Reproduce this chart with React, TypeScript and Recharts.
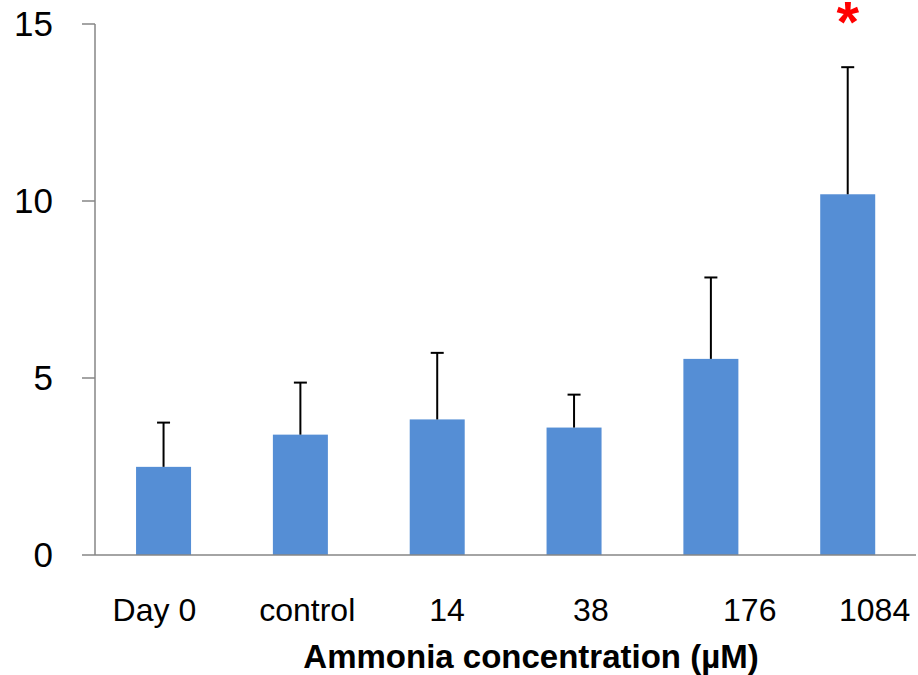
import { Bar, BarChart, XAxis, YAxis } from "recharts";

// 암모니아 농도별 평균값 + 표준편차(위쪽만). 1084 µM 에만 유의성 별표.
const CATEGORIES = ["Day 0", "control", "14", "38", "176", "1084"];
const MEANS = [2.49, 3.4, 3.83, 3.6, 5.54, 10.19];
const SD = [1.25, 1.47, 1.88, 0.93, 2.3, 3.59];
const SIGNIFICANT = [false, false, false, false, false, true];
const Y_TICKS = [0, 5, 10, 15];

// 원본(엑셀) 라벨이 막대 중심에서 조금씩 밀려 있어서 그대로 흉내낸다.
const TICK_NUDGE = [-9, 7, 10, 17, 39, 27];

const BAR_COLOR = "#558ed5";
const AXIS_COLOR = "#868686";
const FONT = "'Liberation Sans', Arial, sans-serif";

const data = CATEGORIES.map((name, i) => ({
  name,
  value: MEANS[i],
  sd: SD[i],
  sig: SIGNIFICANT[i],
}));

function BarWithError(props: any) {
  const { x, y, width, height, payload } = props;
  // 막대 높이/값 = 축 스케일(px per unit)
  const k = height / payload.value;
  const top = y - payload.sd * k;
  const cx = x + width / 2;
  return (
    <g>
      <rect x={x} y={y} width={width} height={height} fill={BAR_COLOR} />
      <line x1={cx} y1={y} x2={cx} y2={top} stroke="#000" strokeWidth={2} />
      <line x1={cx - 6.5} y1={top} x2={cx + 6.5} y2={top} stroke="#000" strokeWidth={2} />
      {payload.sig && (
        <text
          x={cx}
          y={top - 25}
          textAnchor="middle"
          fill="#ff0000"
          fontSize={58}
          fontWeight="bold"
          fontFamily={FONT}
        >
          *
        </text>
      )}
    </g>
  );
}

function CategoryTick(props: any) {
  const { x, y, payload, index } = props;
  return (
    <text
      x={x + (TICK_NUDGE[index] ?? 0)}
      y={y + 66}
      textAnchor="middle"
      fill="#000"
      fontSize={32}
      fontFamily={FONT}
    >
      {payload.value}
    </text>
  );
}

export default function App() {
  return (
    <div style={{ position: "absolute", left: 0, top: 0, background: "#fff" }}>
      <BarChart
        width={918}
        height={675}
        data={data}
        margin={{ top: 24, right: 2, bottom: 0, left: 0 }}
        barCategoryGap="30%"
      >
        <XAxis
          dataKey="name"
          height={120}
          axisLine={{ stroke: AXIS_COLOR, strokeWidth: 1.5 }}
          tickLine={false}
          tickSize={0}
          tickMargin={0}
          tick={<CategoryTick />}
          interval={0}
        />
        <YAxis
          width={95}
          domain={[0, 15]}
          ticks={Y_TICKS}
          interval={0}
          axisLine={{ stroke: AXIS_COLOR, strokeWidth: 1.5 }}
          tickLine={{ stroke: AXIS_COLOR, strokeWidth: 1.5 }}
          tickSize={13}
          tickMargin={29}
          tick={{ fill: "#000", fontSize: 35, fontFamily: FONT }}
        />
        <Bar dataKey="value" shape={<BarWithError />} isAnimationActive={false} />
        <text
          x={531}
          y={668}
          textAnchor="middle"
          fontSize={33}
          fontWeight="bold"
          fontFamily={FONT}
          fill="#000"
        >
          Ammonia concentration (µM)
        </text>
      </BarChart>
    </div>
  );
}
